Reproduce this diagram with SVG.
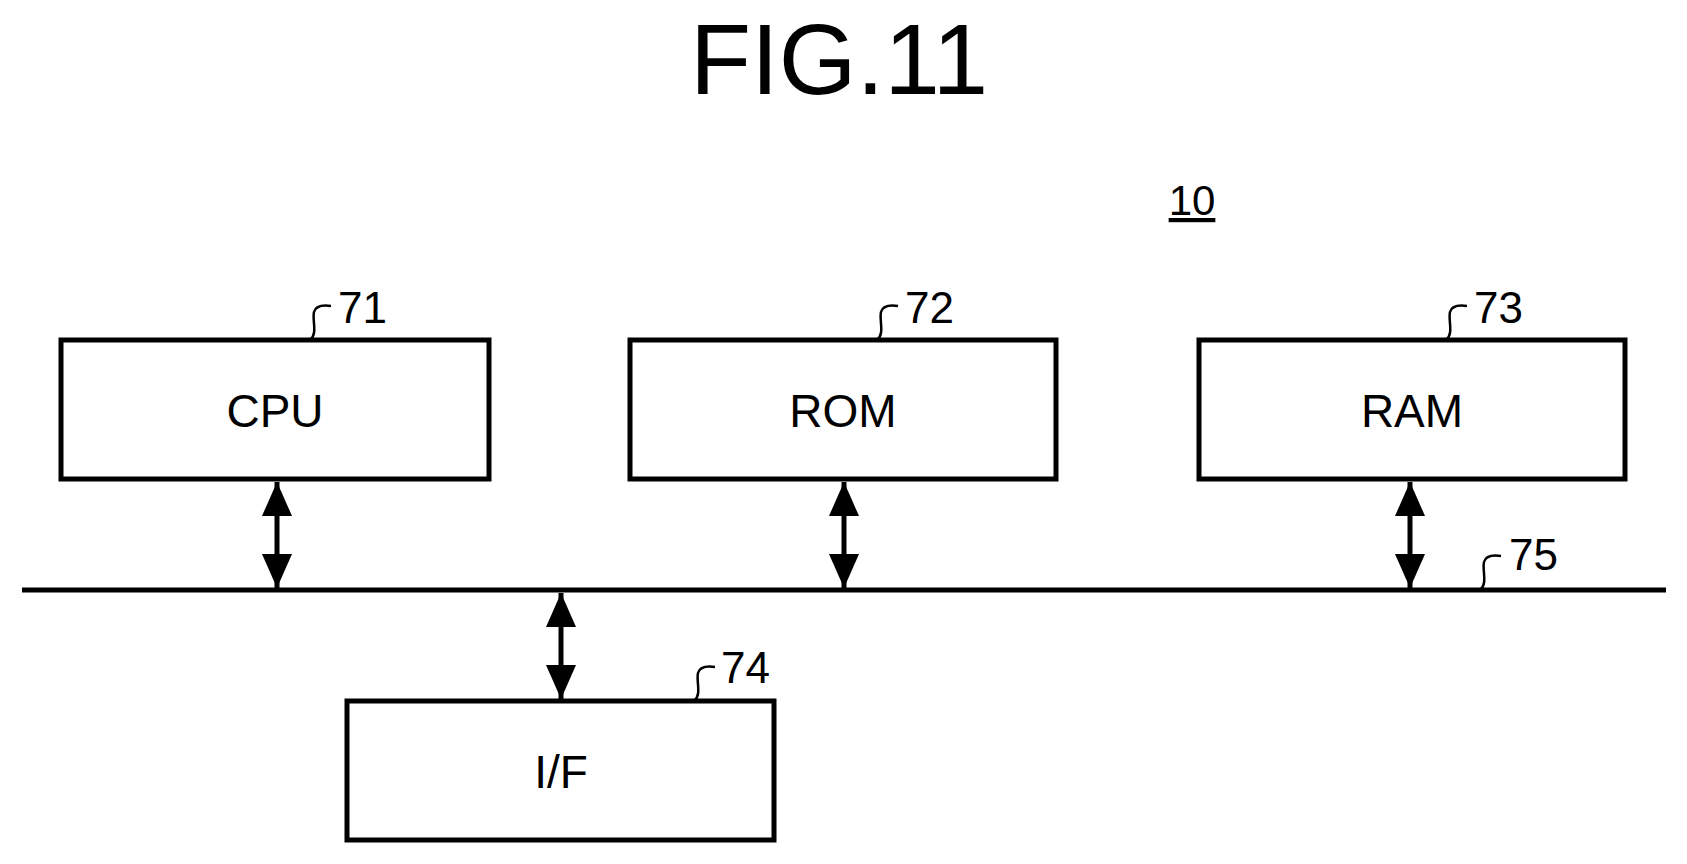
<svg xmlns="http://www.w3.org/2000/svg" width="1687" height="864" viewBox="0 0 1687 864">
<style>
.box{fill:#fff;stroke:#000;stroke-width:5}
.t{font-family:"Liberation Sans",Arial,sans-serif;fill:#000}
.lbl{font-size:46px;text-anchor:middle}
.num{font-size:44px}
.sq{fill:none;stroke:#000;stroke-width:2.5}
.conn line{stroke:#000;stroke-width:5}
</style>
<defs>
<marker id="ah" viewBox="0 0 10 10" refX="10" refY="5" markerWidth="34" markerHeight="30" orient="auto-start-reverse" markerUnits="userSpaceOnUse" preserveAspectRatio="none">
<path d="M0,0 L10,5 L0,10 z" fill="#000"/>
</marker>
</defs>
<rect width="1687" height="864" fill="#fff"/>
<text class="t" x="839" y="94" font-size="100" text-anchor="middle">FIG.11</text>
<text class="t" x="1192" y="215" font-size="42" text-anchor="middle" text-decoration="underline">10</text>
<g id="cpu"><rect class="box" x="61" y="340" width="428" height="139"/><text class="t lbl" x="275" y="427">CPU</text>
<path class="sq" d="M310,340 C318,334 312,320 314,312 C316,305 324,305 331,306"/><text class="t num" x="338" y="323">71</text></g>
<g id="rom"><rect class="box" x="630" y="340" width="426" height="139"/><text class="t lbl" x="843" y="427">ROM</text>
<path class="sq" d="M877,340 C885,334 879,320 881,312 C883,305 891,305 898,306"/><text class="t num" x="905" y="323">72</text></g>
<g id="ram"><rect class="box" x="1199" y="340" width="426" height="139"/><text class="t lbl" x="1412" y="427">RAM</text>
<path class="sq" d="M1446,340 C1454,334 1448,320 1450,312 C1452,305 1460,305 1467,306"/><text class="t num" x="1474" y="323">73</text></g>
<g id="if"><rect class="box" x="347" y="701" width="427" height="139"/><text class="t lbl" x="561" y="788">I/F</text>
<path class="sq" d="M694,701 C702,695 696,681 698,673 C700,666 708,666 715,667"/><text class="t num" x="721" y="683">74</text></g>
<g id="bus"><line x1="22" y1="590" x2="1666" y2="590" stroke="#000" stroke-width="5"/>
<path class="sq" d="M1480,590 C1488,584 1482,570 1484,562 C1486,555 1494,555 1501,556"/><text class="t num" x="1509" y="570">75</text></g>
<g id="connectors" class="conn">
<line x1="277" y1="482" x2="277" y2="588" marker-start="url(#ah)" marker-end="url(#ah)"/>
<line x1="844" y1="482" x2="844" y2="588" marker-start="url(#ah)" marker-end="url(#ah)"/>
<line x1="1410" y1="482" x2="1410" y2="588" marker-start="url(#ah)" marker-end="url(#ah)"/>
<line x1="561" y1="593" x2="561" y2="699" marker-start="url(#ah)" marker-end="url(#ah)"/>
</g>
</svg>
